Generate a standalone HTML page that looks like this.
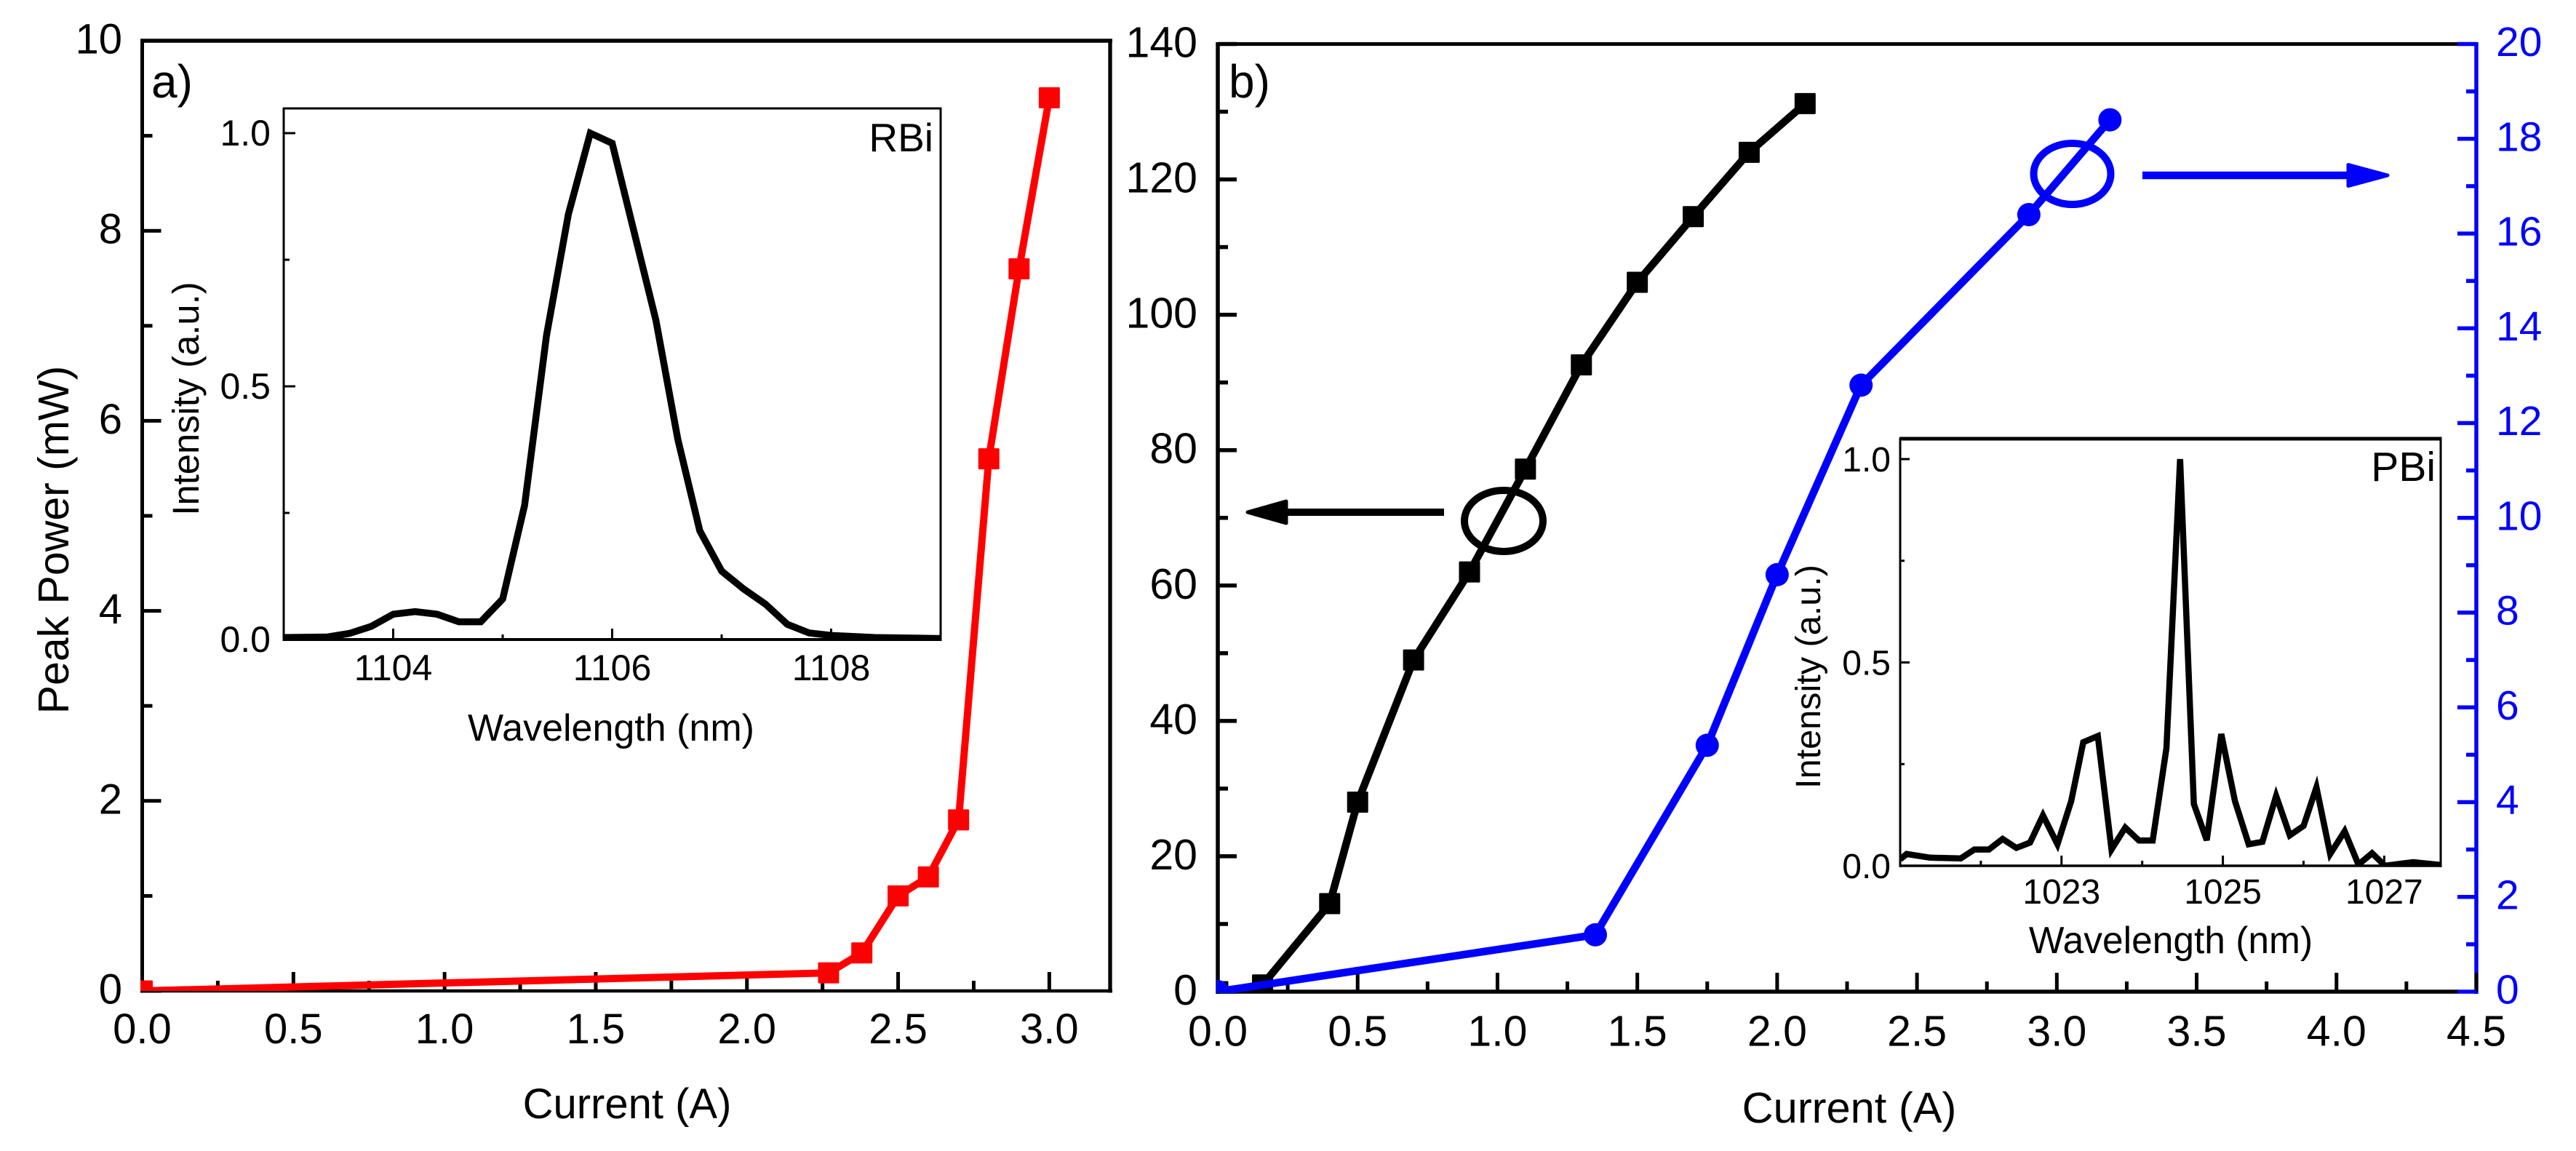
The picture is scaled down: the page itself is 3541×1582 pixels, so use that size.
<!DOCTYPE html>
<html>
<head>
<meta charset="utf-8">
<title>Peak power vs current</title>
<style>
html,body{margin:0;padding:0;background:#fff;}
svg{display:block;}
text{font-family:"Liberation Sans",sans-serif;fill:#000;}
</style>
</head>
<body>
<svg id="figure" xmlns="http://www.w3.org/2000/svg" width="3541" height="1582" viewBox="0 0 3541 1582">
  <defs>
    <clipPath id="clip-a"><rect x="193" y="53" width="1336" height="1309"/></clipPath>
    <clipPath id="clip-b"><rect x="1672" y="58" width="1735" height="1307"/></clipPath>
    <clipPath id="clip-ia"><rect x="390" y="148" width="903" height="731"/></clipPath>
    <clipPath id="clip-ib"><rect x="2612" y="603" width="743" height="587"/></clipPath>
  </defs>
  <g id="layer-axes"></g>
  <g id="layer-marks"></g>

  <text x="208" y="134" font-size="64">a)</text>
  <text x="1689" y="134" font-size="64">b)</text>
  <text x="862" y="1537" font-size="58" text-anchor="middle">Current (A)</text>
  <text x="2542" y="1543" font-size="59.6" text-anchor="middle">Current (A)</text>
  <text transform="translate(94,742) rotate(-90)" font-size="59" text-anchor="middle">Peak Power (mW)</text>

  <text x="840" y="1018" font-size="52" text-anchor="middle">Wavelength (nm)</text>
  <text transform="translate(273,548) rotate(-90)" font-size="50.7" text-anchor="middle">Intensity (a.u.)</text>
  <text x="1283" y="208" font-size="55" text-anchor="end">RBi</text>

  <text x="2984" y="1310" font-size="51.5" text-anchor="middle">Wavelength (nm)</text>
  <text transform="translate(2502,930) rotate(-90)" font-size="48.6" text-anchor="middle">Intensity (a.u.)</text>
  <text x="3348" y="661" font-size="57" text-anchor="end">PBi</text>

  <g>
    <ellipse cx="2067" cy="716" rx="54" ry="42" fill="none" stroke="#000" stroke-width="10"/>
    <line x1="1985" y1="704" x2="1760" y2="704" stroke="#000" stroke-width="10"/>
    <polygon points="1715,704 1768,689 1768,719" fill="#000" stroke="#000" stroke-width="5" stroke-linejoin="round"/>
  </g>
  <g>
    <ellipse cx="2848.5" cy="239" rx="53" ry="42" fill="none" stroke="#0000ff" stroke-width="10"/>
    <line x1="2945" y1="241" x2="3240" y2="241" stroke="#0000ff" stroke-width="10.5"/>
    <polygon points="3282,241 3228,226.5 3228,255.5" fill="#0000ff" stroke="#0000ff" stroke-width="5" stroke-linejoin="round"/>
  </g>
</svg>

<script>
// ---- Panel a: peak power ----
const panelAXTicks = ['0.0','0.5','1.0','1.5','2.0','2.5','3.0'];
const panelAYTicks = ['0','2','4','6','8','10'];
const panelACurrent = [0, 2.27, 2.38, 2.5, 2.6, 2.7, 2.8, 2.9, 3.0];
const panelAPower = [0, 0.19, 0.4, 1.0, 1.2, 1.8, 5.6, 7.6, 9.4];

// ---- Panel b: two series ----
const panelBXTicks = ['0.0','0.5','1.0','1.5','2.0','2.5','3.0','3.5','4.0','4.5'];
const panelBYLeftTicks = ['0','20','40','60','80','100','120','140'];
const panelBYRightTicks = ['0','2','4','6','8','10','12','14','16','18','20'];
const blackCurrent = [0, 0.16, 0.4, 0.5, 0.7, 0.9, 1.1, 1.3, 1.5, 1.7, 1.9, 2.1];
const blackValues = [0, 1, 13, 28, 49, 62, 77.2, 92.6, 104.8, 114.5, 124, 131.2];
const blueCurrent = [0, 1.35, 1.75, 2.0, 2.3, 2.9, 3.19];
const blueValues = [0, 1.2, 5.2, 8.8, 12.8, 16.4, 18.4];

// ---- Inset RBi ----
const rbiXTicks = ['1104','1106','1108'];
const rbiYTicks = ['0.0','0.5','1.0'];
const rbiWavelength = [1103,1103.4,1103.6,1103.8,1104,1104.2,1104.4,1104.6,1104.8,1105,1105.2,1105.4,1105.6,1105.8,1106,1106.2,1106.4,1106.6,1106.8,1107,1107.2,1107.4,1107.6,1107.8,1108,1108.4,1109];
const rbiIntensity = [0.004,0.005,0.012,0.026,0.05,0.055,0.05,0.035,0.035,0.08,0.265,0.6,0.84,1.0,0.98,0.805,0.63,0.395,0.215,0.135,0.1,0.07,0.03,0.013,0.008,0.004,0.002];

// ---- Inset PBi ----
const pbiXTicks = ['1023','1025','1027'];
const pbiYTicks = ['0.0','0.5','1.0'];
const pbiWavelength = [1021,1021.08,1021.37,1021.75,1021.92,1022.1,1022.27,1022.44,1022.61,1022.77,1022.95,1023.12,1023.27,1023.45,1023.62,1023.79,1023.96,1024.13,1024.3,1024.47,1024.64,1024.8,1024.98,1025.15,1025.32,1025.49,1025.66,1025.83,1026,1026.16,1026.33,1026.51,1026.68,1026.85,1027.01,1027.36,1027.7];
const pbiIntensity = [0.016,0.029,0.02,0.018,0.04,0.04,0.066,0.044,0.057,0.124,0.053,0.159,0.304,0.319,0.04,0.094,0.062,0.062,0.289,1.0,0.152,0.063,0.324,0.159,0.053,0.059,0.172,0.075,0.098,0.193,0.029,0.085,0.003,0.031,0,0.009,0.002];

const NS = 'http://www.w3.org/2000/svg';
const axesLayer = document.getElementById('layer-axes');
const marksLayer = document.getElementById('layer-marks');

function scale(d0, d1, r0, r1) {
  return function (v) { return r0 + (v - d0) * (r1 - r0) / (d1 - d0); };
}

function shape(parent, tag, name, attrs) {
  const node = document.createElementNS(NS, tag);
  for (const k in attrs) node.setAttribute(k, attrs[k]);
  
  
  parent.appendChild(node);
  return node;
}

function frameLine(name, x1, y1, x2, y2, color, w) {
  shape(axesLayer, 'line', name, { x1: x1, y1: y1, x2: x2, y2: y2, stroke: color, 'stroke-width': w });
}

// orient: 'bottom' | 'left' | 'right'; o: tick lengths, font, label offset
function drawAxis(prefix, orient, sc, labels, base, o) {
  const color = o.color || '#000';
  const values = labels.map(Number);
  const step = values[1] - values[0];
  const limit = o.limit;
  const tick = function (v, len, w, name) {
    const p = sc(v);
    if (orient === 'bottom') shape(axesLayer, 'line', name, { x1: p, y1: base, x2: p, y2: base - len, stroke: color, 'stroke-width': w });
    if (orient === 'left') shape(axesLayer, 'line', name, { x1: base, y1: p, x2: base + len, y2: p, stroke: color, 'stroke-width': w });
    if (orient === 'right') shape(axesLayer, 'line', name, { x1: base, y1: p, x2: base - len, y2: p, stroke: color, 'stroke-width': w });
  };
  labels.forEach(function (lab, i) {
    const v = values[i];
    tick(v, o.major, o.tickW, prefix + '-tick-' + lab);
    const p = sc(v);
    const t = document.createElementNS(NS, 'text');
    t.textContent = lab;
    t.setAttribute('font-size', o.font);
    t.setAttribute('fill', color);
    t.style.fill = color;
    if (orient === 'bottom') {
      t.setAttribute('x', p);
      t.setAttribute('y', o.labelPos);
      t.setAttribute('text-anchor', 'middle');
    } else {
      t.setAttribute('x', o.labelPos);
      t.setAttribute('y', p + o.baselineShift);
      t.setAttribute('text-anchor', orient === 'left' ? 'end' : 'start');
    }
    
    
    axesLayer.appendChild(t);
  });
  for (let v = values[0] + step / 2; v <= limit; v += step) {
    tick(v, o.minor, o.tickW, prefix + '-minor-tick');
  }
}

function drawLine(name, xs, ys, sx, sy, color, w, clip) {
  const pts = xs.map(function (x, i) { return sx(x).toFixed(1) + ',' + sy(ys[i]).toFixed(1); }).join(' ');
  shape(marksLayer, 'polyline', name, { points: pts, fill: 'none', stroke: color, 'stroke-width': w, 'stroke-linejoin': 'miter', 'clip-path': 'url(#' + clip + ')' });
}

function drawSquares(name, xs, ys, sx, sy, color, size, clip) {
  xs.forEach(function (x, i) {
    shape(marksLayer, 'rect', name, { x: sx(x) - size / 2, y: sy(ys[i]) - size / 2, width: size, height: size, rx: 1.5, fill: color, 'clip-path': 'url(#' + clip + ')' });
  });
}

function drawCircles(name, xs, ys, sx, sy, color, r, clip) {
  xs.forEach(function (x, i) {
    shape(marksLayer, 'circle', name, { cx: sx(x), cy: sy(ys[i]), r: r, fill: color, 'clip-path': 'url(#' + clip + ')' });
  });
}

// Panel a
const ax = scale(0, 3.2, 195.5, 1525.5);
const ay = scale(0, 10, 1362, 56);
frameLine('panel-a-top-border', 193, 56, 1529, 56, '#000', 5.5);
frameLine('panel-a-left-border', 195.5, 53.5, 195.5, 1364.5, '#000', 5);
frameLine('panel-a-right-border', 1526, 53.5, 1526, 1364.5, '#000', 5.3);
frameLine('panel-a-bottom-border', 193, 1362, 1529, 1362, '#000', 4.5);
drawAxis('panel-a-x', 'bottom', ax, panelAXTicks, 1362, { major: 26, minor: 14, tickW: 5, font: 58, labelPos: 1434, limit: 3.2 });
drawAxis('panel-a-y', 'left', ay, panelAYTicks, 195.5, { major: 26, minor: 14, tickW: 5, font: 58, labelPos: 168, baselineShift: 17.5, limit: 10 });

// Panel b
const bx = scale(0, 4.5, 1674, 3404);
const byL = scale(0, 140, 1363, 60.5);
const byR = scale(0, 20, 1363, 60.5);
frameLine('panel-b-top-border', 1671.5, 60.5, 3380, 60.5, '#000', 5);
frameLine('panel-b-left-border', 1674, 58, 1674, 1366, '#000', 5.5);
frameLine('panel-b-bottom-border', 1671.5, 1363, 3380, 1363, '#000', 5.5);
frameLine('panel-b-right-border', 3404, 58, 3404, 1366, '#0000ff', 5.5);
drawAxis('panel-b-x', 'bottom', bx, panelBXTicks, 1363, { major: 26, minor: 14, tickW: 5, font: 59, labelPos: 1437.5, limit: 4.5 });
drawAxis('panel-b-y-left', 'left', byL, panelBYLeftTicks, 1674, { major: 26, minor: 14, tickW: 5.5, font: 59, labelPos: 1646, baselineShift: 18, limit: 140 });
drawAxis('panel-b-y-right', 'right', byR, panelBYRightTicks, 3404, { major: 26, minor: 14, tickW: 5.5, font: 57, labelPos: 3431, baselineShift: 16.5, color: '#0000ff', limit: 20 });

// Inset RBi
const iax = scale(1103, 1109, 390, 1293);
const iay = scale(0, 1, 879, 183);
frameLine('inset-rbi-top-border', 389, 149, 1294.5, 149, '#000', 3);
frameLine('inset-rbi-left-border', 390, 148, 390, 881, '#000', 3);
frameLine('inset-rbi-right-border', 1293, 148, 1293, 881, '#000', 3);
frameLine('inset-rbi-bottom-border', 389, 879, 1294.5, 879, '#000', 4);
drawAxis('inset-rbi-x', 'bottom', iax, rbiXTicks, 879, { major: 15, minor: 7, tickW: 3, font: 50, labelPos: 935, limit: 1109 });
shape(axesLayer, 'line', 'inset-rbi-x-minor-tick', { x1: iax(1103), y1: 879, x2: iax(1103), y2: 872, stroke: '#000', 'stroke-width': 3 });
drawAxis('inset-rbi-y', 'left', iay, rbiYTicks, 390, { major: 16, minor: 8, tickW: 3, font: 50, labelPos: 372, baselineShift: 17, limit: 1 });
drawLine('inset-rbi-spectrum', rbiWavelength, rbiIntensity, iax, iay, '#000', 9.5, 'clip-ia');

// Inset PBi
const ibx = scale(1021, 1027.7, 2612, 3355);
const iby = scale(0, 1, 1190, 631);
frameLine('inset-pbi-top-border', 2611, 603, 3356.5, 603, '#000', 5);
frameLine('inset-pbi-left-border', 2612, 602, 2612, 1192, '#000', 3);
frameLine('inset-pbi-right-border', 3355, 602, 3355, 1192, '#000', 3);
frameLine('inset-pbi-bottom-border', 2611, 1190, 3356.5, 1190, '#000', 3.5);
drawAxis('inset-pbi-x', 'bottom', ibx, pbiXTicks, 1190, { major: 14, minor: 7, tickW: 3, font: 48, labelPos: 1242, limit: 1027.7 });
shape(axesLayer, 'line', 'inset-pbi-x-minor-tick', { x1: ibx(1022), y1: 1190, x2: ibx(1022), y2: 1183, stroke: '#000', 'stroke-width': 3 });
drawAxis('inset-pbi-y', 'left', iby, pbiYTicks, 2612, { major: 13, minor: 6, tickW: 3, font: 48, labelPos: 2599, baselineShift: 17, limit: 1 });
drawLine('inset-pbi-spectrum', pbiWavelength, pbiIntensity, ibx, iby, '#000', 8.5, 'clip-ib');

// Series
drawLine('panel-a-power-line', panelACurrent, panelAPower, ax, ay, '#ff0000', 10, 'clip-a');
drawSquares('panel-a-power-marker', panelACurrent, panelAPower, ax, ay, '#ff0000', 29, 'clip-a');
drawLine('panel-b-black-line', blackCurrent, blackValues, bx, byL, '#000', 10.5, 'clip-b');
drawSquares('panel-b-black-marker', blackCurrent, blackValues, bx, byL, '#000', 29, 'clip-b');
drawLine('panel-b-blue-line', blueCurrent, blueValues, bx, byR, '#0000ff', 10.5, 'clip-b');
drawCircles('panel-b-blue-marker', blueCurrent, blueValues, bx, byR, '#0000ff', 16, 'clip-b');
</script>
</body>
</html>
